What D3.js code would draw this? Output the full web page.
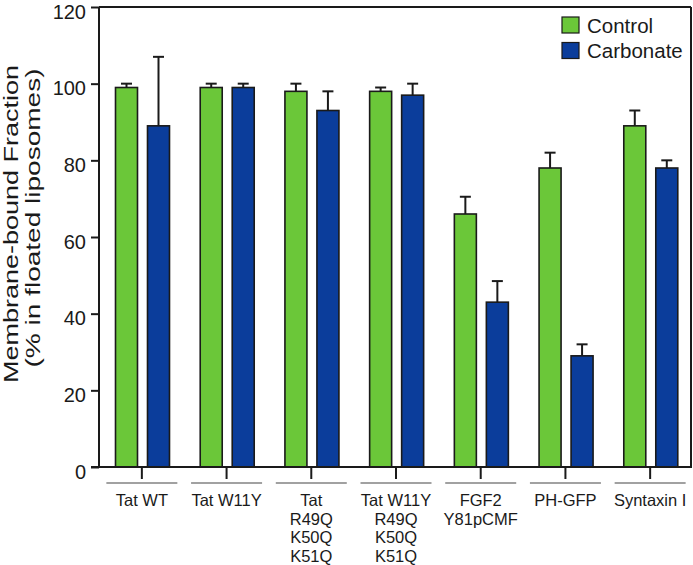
<!DOCTYPE html>
<html><head><meta charset="utf-8">
<script src="https://cdn.jsdelivr.net/npm/d3@7"></script>
<style>body{margin:0;background:#fff}svg{display:block}text{font-family:"Liberation Sans",Arial,Helvetica,sans-serif;fill:#1a1a1a}</style>
</head><body><svg id="c" width="693" height="565"></svg>
<script>
const groups = [["Tat WT"],["Tat W11Y"],["Tat","R49Q","K50Q","K51Q"],["Tat W11Y","R49Q","K50Q","K51Q"],["FGF2","Y81pCMF"],["PH-GFP"],["Syntaxin I"]];
const series = ["Control","Carbonate"];
const control = [99, 99, 98, 98, 66, 78, 89];
const controlErr = [1, 1, 2, 1, 4.5, 4, 4];
const carbonate = [89, 99, 93, 97, 43, 29, 78];
const carbonateErr = [18, 1, 5, 3, 5.5, 3, 2];
const yTicks = [0, 20, 40, 60, 80, 100, 120];
const colors = ["#6bc739", "#0b3d9b"];

(function(){
const svg = d3.select("#c");
const pl = 99, pr = 691, pt = 7, pb = 467;
const keys = groups.map((g,i)=>"g"+i);
const x0 = d3.scaleBand().domain(keys).range([pl+0.5, pr+1.5]).padding(0);
const x1 = d3.scaleBand().domain(series).range([16, 70]).paddingInner(0.3125).paddingOuter(0);
const y = d3.scaleLinear().domain([0,120]).range([pb, pt]);
const ink = "#1a1a1a";

svg.append("line").attr("x1",pl).attr("x2",pr).attr("y1",pt).attr("y2",pt).attr("stroke",ink).attr("stroke-width",2);
svg.append("line").attr("x1",pr).attr("x2",pr).attr("y1",pt).attr("y2",pb).attr("stroke",ink).attr("stroke-width",2);

const data = [];
keys.forEach((k,i)=>{
  data.push({k, s:"Control", v:control[i], e:controlErr[i], c:colors[0]});
  data.push({k, s:"Carbonate", v:carbonate[i], e:carbonateErr[i], c:colors[1]});
});
const gb = svg.append("g");
data.forEach(d=>{
  const bx = x0(d.k)+x1(d.s), bw = x1.bandwidth(), cx = bx+bw/2;
  gb.append("line").attr("x1",cx).attr("x2",cx).attr("y1",y(d.v)).attr("y2",y(d.v+d.e)).attr("stroke",ink).attr("stroke-width",2);
  gb.append("line").attr("x1",cx-5.5).attr("x2",cx+5.5).attr("y1",y(d.v+d.e)).attr("y2",y(d.v+d.e)).attr("stroke",ink).attr("stroke-width",2);
  gb.append("rect").attr("x",bx).attr("y",y(d.v)).attr("width",bw).attr("height",y(0)-y(d.v))
    .attr("fill",d.c).attr("stroke",ink).attr("stroke-width",1.6);
});

const ya = svg.append("g").attr("transform",`translate(${pl},0)`)
  .call(d3.axisLeft(y).tickValues(yTicks).tickSize(8).tickPadding(5).tickFormat(d3.format("d")));
ya.select(".domain").attr("stroke",ink).attr("stroke-width",2).attr("d",`M0,${pt}V${pb}`);
ya.selectAll(".tick line").attr("stroke",ink).attr("stroke-width",2);
ya.selectAll(".tick text").attr("font-size",20).attr("fill",ink).attr("font-family","Liberation Sans, Arial, sans-serif").attr("dy","0.55em");

svg.append("line").attr("x1",pl-8).attr("x2",pr+1).attr("y1",pb).attr("y2",pb).attr("stroke",ink).attr("stroke-width",2);
const xa = svg.append("g");
keys.forEach((k,i)=>{
  const cx = x0(k)+x0.bandwidth()/2;
  xa.append("line").attr("x1",cx).attr("x2",cx).attr("y1",pb).attr("y2",pb+12).attr("stroke",ink).attr("stroke-width",2);
  xa.append("line").attr("x1",cx-35.5).attr("x2",cx+35.5).attr("y1",483).attr("y2",483).attr("stroke","#444").attr("stroke-width",1.2);
  const t = xa.append("text").attr("x",cx).attr("y",506).attr("text-anchor","middle").attr("font-size",16.5);
  groups[i].forEach((ln,j)=>t.append("tspan").attr("x",cx).attr("dy",j?18.5:0).text(ln));
});

svg.append("text").attr("transform","translate(18,224) rotate(-90)").attr("text-anchor","middle")
  .attr("font-size",21).attr("textLength",318).attr("lengthAdjust","spacingAndGlyphs").text("Membrane-bound Fraction");
svg.append("text").attr("transform","translate(40,218) rotate(-90)").attr("text-anchor","middle")
  .attr("font-size",21).attr("textLength",299).attr("lengthAdjust","spacingAndGlyphs").text("(% in floated liposomes)");

const lg = svg.append("g");
series.forEach((s,i)=>{
  lg.append("rect").attr("x",562).attr("y",17+i*25.5).attr("width",17).attr("height",16).attr("fill",colors[i]).attr("stroke",ink).attr("stroke-width",1.2);
  lg.append("text").attr("x",587).attr("y",32.5+i*25.5).attr("font-size",20.5).text(s);
});
})();
</script></body></html>
